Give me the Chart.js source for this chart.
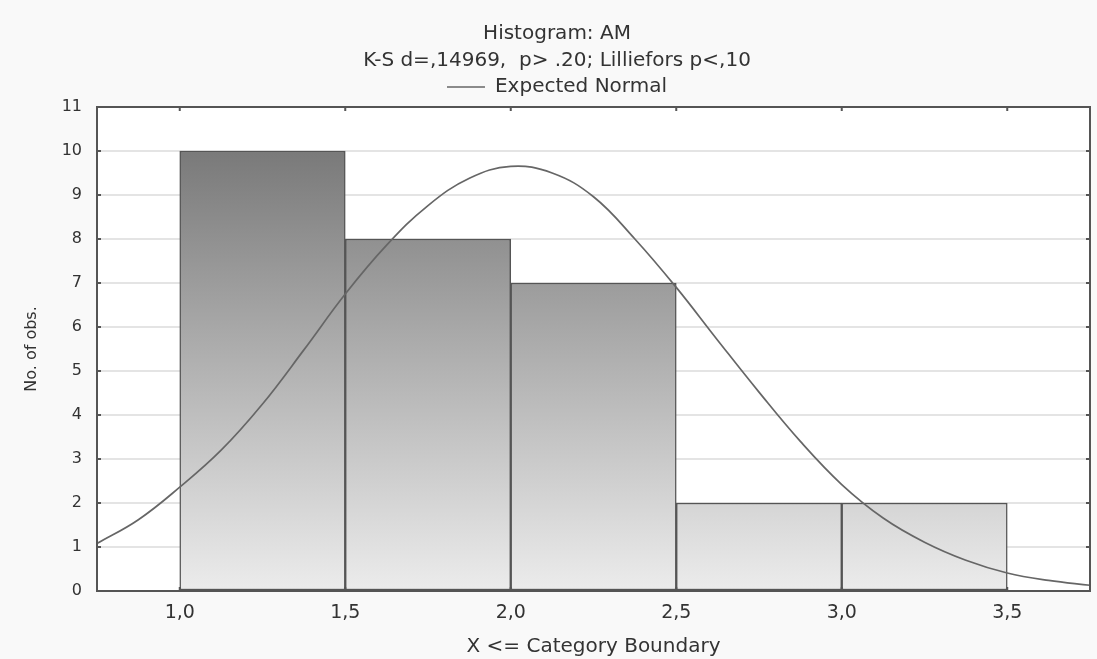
<!DOCTYPE html>
<html>
<head>
<meta charset="utf-8">
<title>Histogram: AM</title>
<script src="https://cdn.jsdelivr.net/npm/chart.js@4.4.1/dist/chart.umd.min.js"></script>
<style>
    html, body { margin: 0; padding: 0; background: #f9f9f9; }
    #wrap { width: 1097px; height: 659px; }
</style>
</head>
<body>
<div id="wrap"><canvas id="histChart" width="1097" height="659"></canvas></div>
<script>
// histogram bins (X <= category boundary)
var binEdges = [1.0, 1.5, 2.0, 2.5, 3.0, 3.5];
var binCounts = [10, 8, 7, 2, 2];

// expected normal curve
var curveX = [0.75, 0.875, 1.0, 1.125, 1.25, 1.375, 1.5, 1.625, 1.75, 1.875, 2.0, 2.125, 2.25, 2.375, 2.5, 2.625, 2.75, 2.875, 3.0, 3.125, 3.25, 3.375, 3.5, 3.625, 3.75];
var curveY = [1.08, 1.62, 2.36, 3.20, 4.25, 5.48, 6.75, 7.86, 8.76, 9.38, 9.65, 9.50, 8.96, 8.00, 6.90, 5.70, 4.52, 3.40, 2.42, 1.66, 1.11, 0.70, 0.41, 0.24, 0.13];

// axis ticks
var xTickValues = [1.0, 1.5, 2.0, 2.5, 3.0, 3.5];
var xTickLabels = ['1,0', '1,5', '2,0', '2,5', '3,0', '3,5'];

var fontFamily = "'DejaVu Sans', 'Liberation Sans', sans-serif";
var textColor = '#333333';

var barData = binCounts.map(function (c, i) {
    return { x: (binEdges[i] + binEdges[i + 1]) / 2, y: c };
});
var curveData = curveX.map(function (x, i) {
    return { x: x, y: curveY[i] };
});

// background of canvas + white plot area, frame and inner tick marks
var framePlugin = {
    id: 'frame',
    beforeDraw: function (chart) {
        var ctx = chart.ctx, a = chart.chartArea;
        ctx.save();
        ctx.fillStyle = '#f9f9f9';
        ctx.fillRect(0, 0, chart.width, chart.height);
        ctx.fillStyle = '#ffffff';
        ctx.fillRect(a.left, a.top, a.right - a.left, a.bottom - a.top);
        ctx.restore();
    },
    afterDatasetsDraw: function (chart) {
        var ctx = chart.ctx, a = chart.chartArea;
        var xs = chart.scales.x, ys = chart.scales.y;
        ctx.save();
        ctx.strokeStyle = '#555555';
        ctx.lineWidth = 2;
        ctx.beginPath();
        xs.ticks.forEach(function (t) {
            var px = xs.getPixelForValue(t.value);
            ctx.moveTo(px, a.top); ctx.lineTo(px, a.top + 4);
            ctx.moveTo(px, a.bottom); ctx.lineTo(px, a.bottom - 4);
        });
        ys.ticks.forEach(function (t) {
            var py = ys.getPixelForValue(t.value);
            ctx.moveTo(a.left, py); ctx.lineTo(a.left + 4, py);
            ctx.moveTo(a.right, py); ctx.lineTo(a.right - 4, py);
        });
        ctx.stroke();
        ctx.strokeRect(a.left, a.top, a.right - a.left, a.bottom - a.top);
        ctx.restore();
    }
};

var ctx = document.getElementById('histChart').getContext('2d');
var histChart = new Chart(ctx, {
    type: 'bar',
    data: {
        datasets: [{
            type: 'line',
            label: 'Expected Normal',
            data: curveData,
            borderColor: '#666666',
            borderWidth: 1.7,
            pointRadius: 0,
            tension: 0.4,
            fill: false,
            order: 0
        }, {
            type: 'bar',
            label: 'No. of obs.',
            data: barData,
            backgroundColor: function (c) {
                var a = c.chart.chartArea;
                if (!a) return '#aaaaaa';
                var g = c.chart.ctx.createLinearGradient(0, a.top, 0, a.bottom);
                g.addColorStop(0, '#6e6e6e');
                g.addColorStop(1, '#ececec');
                return g;
            },
            borderColor: '#555555',
            borderWidth: 1.5,
            borderSkipped: false,
            barPercentage: 1,
            categoryPercentage: 1,
            order: 1
        }]
    },
    options: {
        responsive: false,
        animation: false,
        layout: { padding: { left: 24, right: 7, top: 0, bottom: 0 } },
        scales: {
            x: {
                type: 'linear',
                offset: false,
                min: 0.75,
                max: 3.75,
                afterBuildTicks: function (scale) {
                    scale.ticks = xTickValues.map(function (v) { return { value: v }; });
                },
                afterFit: function (scale) { scale.height = 68; },
                grid: { display: false, drawTicks: false, offset: false },
                border: { display: false },
                ticks: {
                    autoSkip: false,
                    maxRotation: 0,
                    padding: 11,
                    color: textColor,
                    font: { family: fontFamily, size: 19 },
                    callback: function (value, index) { return xTickLabels[index]; }
                },
                title: {
                    display: true,
                    text: 'X <= Category Boundary',
                    color: textColor,
                    font: { family: fontFamily, size: 20, lineHeight: 1.2 },
                    padding: { top: 0, bottom: 0 }
                }
            },
            y: {
                min: 0,
                max: 11,
                afterFit: function (scale) { scale.width = 73; },
                grid: { color: '#e4e4e4', lineWidth: 2, drawTicks: false },
                border: { display: false },
                ticks: {
                    stepSize: 1,
                    padding: 15,
                    color: textColor,
                    font: { family: fontFamily, size: 16 }
                },
                title: {
                    display: true,
                    text: 'No. of obs.',
                    color: textColor,
                    font: { family: fontFamily, size: 16, lineHeight: 1 },
                    padding: { top: 0, bottom: 0 }
                }
            }
        },
        plugins: {
            title: {
                display: true,
                text: ['Histogram: AM', 'K-S d=,14969,  p> .20; Lilliefors p<,10'],
                color: textColor,
                font: { family: fontFamily, size: 20, weight: 'normal', lineHeight: 1.35 },
                padding: { top: 20.5, bottom: -8.5 }
            },
            legend: {
                display: true,
                labels: {
                    usePointStyle: true,
                    pointStyle: 'line',
                    pointStyleWidth: 38,
                    padding: 11,
                    color: textColor,
                    font: { family: fontFamily, size: 20 },
                    filter: function (item) { return item.datasetIndex === 0; }
                }
            },
            tooltip: { enabled: false }
        }
    },
    plugins: [framePlugin]
});
</script>
</body>
</html>
